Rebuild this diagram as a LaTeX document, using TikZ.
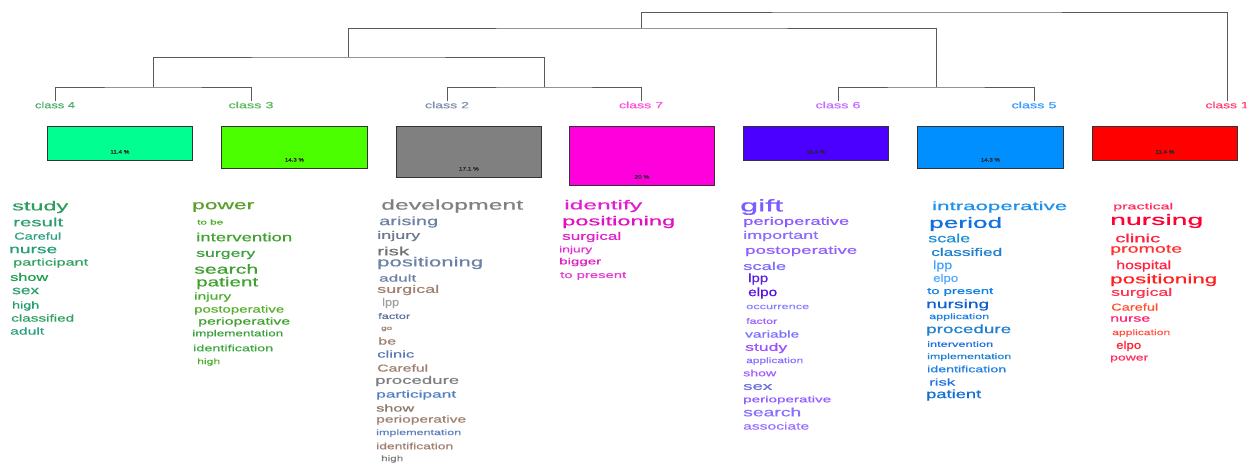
\documentclass[tikz,border=0pt]{standalone}
\usepackage{fontspec}
\setmainfont{Liberation Sans}[FakeBold=0.6]
\usepackage{graphicx}
\usetikzlibrary{calc}
\newlength\fitlen
\newcommand\fitw[3]{\fontsize{#2}{#2}\selectfont\settowidth\fitlen{#3}\scalebox{\fpeval{#1/\fitlen}}[1]{#3}}
\newcommand\W[7]{\node[wrd] (#1) at (#2,#3) {\color[HTML]{#4}\fitw{#5}{#6}{#7}};}
\tikzset{
  wrd/.style={anchor=west, inner sep=0pt},
  clab/.style={inner sep=0pt, anchor=center},
  box/.style={draw=black!80, line width=0.8pt, anchor=north west, inner sep=0pt},
  pct/.style={inner sep=0pt, text=black!85},
  treeline/.style={draw=black!65, line width=1pt}
}
\begin{document}
\begin{tikzpicture}[x=1pt, y=-1pt]
\useasboundingbox (0,0) rectangle (1247,464);
% class labels
\node[clab] (l4) at (55,105) {\color[HTML]{4CAF70}\fitw{40}{9}{class 4}};
\node[clab] (l3) at (251,105) {\color[HTML]{5CB85C}\fitw{45}{9}{class 3}};
\node[clab] (l2) at (447,105) {\color[HTML]{8090A8}\fitw{44}{9}{class 2}};
\node[clab] (l7) at (641,105) {\color[HTML]{FF50D8}\fitw{44}{9}{class 7}};
\node[clab] (l6) at (838,105) {\color[HTML]{C070FF}\fitw{45}{9}{class 6}};
\node[clab] (l5) at (1034,105) {\color[HTML]{3A9AFF}\fitw{45}{9}{class 5}};
\node[clab] (l1) at (1227,105) {\color[HTML]{FF4070}\fitw{43}{9}{class 1}};
% dendrogram
\coordinate (t43) at (153,87);
\coordinate (t27) at (544,87);
\coordinate (t65) at (936,87);
\coordinate (tL) at (348,57);
\coordinate (tM) at (641,28);
\coordinate (tT) at (900,12);
\draw[treeline] (l4.north) |- (t43) -| (l3.north);
\draw[treeline] (l2.north) |- (t27) -| (l7.north);
\draw[treeline] (l6.north) |- (t65) -| (l5.north);
\draw[treeline] (t43) |- (tL) -| (t27);
\draw[treeline] (tL) |- (tM) -| (t65);
\draw[treeline] (tM) |- (tT) -| (l1.north);
% boxes
\node[box, fill={rgb,255:red,0;green,255;blue,144}, minimum width=145pt, minimum height=34pt] (b4) at (47,126) {};
\node[box, fill={rgb,255:red,76;green,255;blue,0}, minimum width=146pt, minimum height=42pt] (b3) at (221,126) {};
\node[box, fill={rgb,255:red,128;green,128;blue,128}, minimum width=145pt, minimum height=51pt] (b2) at (396,126) {};
\node[box, fill={rgb,255:red,255;green,0;blue,221}, minimum width=145pt, minimum height=59pt] (b7) at (569,126) {};
\node[box, fill={rgb,255:red,75;green,0;blue,255}, minimum width=145pt, minimum height=34pt] (b6) at (743,126) {};
\node[box, fill={rgb,255:red,0;green,143;blue,255}, minimum width=146pt, minimum height=42pt] (b5) at (917,126) {};
\node[box, fill={rgb,255:red,255;green,0;blue,0}, minimum width=145pt, minimum height=34pt] (b1) at (1092,126) {};
\node[pct] (p4) at ($(b4.south)+(0,-9)$) {\fitw{19}{5}{11.4 \%}};
\node[pct] (p3) at ($(b3.south)+(0,-9)$) {\fitw{19}{5}{14.3 \%}};
\node[pct] (p2) at ($(b2.south)+(0,-9)$) {\fitw{20}{5}{17.1 \%}};
\node[pct] (p7) at ($(b7.south)+(0,-9)$) {\fitw{15}{5}{20 \%}};
\node[pct] (p6) at ($(b6.south)+(0,-9)$) {\fitw{19}{5}{11.4 \%}};
\node[pct] (p5) at ($(b5.south)+(0,-9)$) {\fitw{19}{5}{14.3 \%}};
\node[pct] (p1) at ($(b1.south)+(0,-9)$) {\fitw{19}{5}{11.4 \%}};
% class 4
\W{w4a}{12}{207}{2E9E60}{56}{13}{study}
\W{w4b}{13}{222}{2E9E6E}{50}{12}{result}
\W{w4c}{14}{236}{30A080}{47}{10}{Careful}
\W{w4d}{9}{250}{20A070}{48}{12}{nurse}
\W{w4e}{13}{263}{30A060}{75}{10}{participant}
\W{w4f}{10}{277}{20A050}{38}{11}{show}
\W{w4g}{12}{291}{30A070}{27}{12}{sex}
\W{w4h}{12}{306}{20A070}{27}{10}{high}
\W{w4i}{11}{318}{30A060}{63}{10}{classified}
\W{w4j}{10}{331}{30A080}{34}{10}{adult}
% class 3
\W{w3a}{192}{207}{5AA02C}{62}{13}{power}
\W{w3b}{197}{222}{4CAF30}{26}{7}{to be}
\W{w3c}{196}{237}{40A030}{96}{12}{intervention}
\W{w3d}{196}{255}{3CA040}{59}{11}{surgery}
\W{w3e}{194}{269}{40A030}{64}{13}{search}
\W{w3f}{196}{283}{40A030}{62}{13}{patient}
\W{w3g}{194}{297}{4CAF30}{37}{10}{injury}
\W{w3h}{194}{310}{5AAF30}{90}{10}{postoperative}
\W{w3i}{198}{322}{40A030}{92}{10}{perioperative}
\W{w3j}{192}{334}{3CA040}{91}{9}{implementation}
\W{w3k}{193}{348}{40A840}{80}{9}{identification}
\W{w3l}{197}{362}{4CAF30}{23}{8}{high}
% class 2
\W{w2a}{381}{206}{808080}{142}{14}{development}
\W{w2b}{379}{222}{6C82A5}{59}{12}{arising}
\W{w2c}{377}{236}{6C7A90}{43}{11}{injury}
\W{w2d}{377}{251}{707070}{32}{12}{risk}
\W{w2e}{377}{263}{6C82A5}{106}{13}{positioning}
\W{w2f}{379}{278}{6C82A5}{37}{10}{adult}
\W{w2g}{377}{290}{A08070}{62}{11}{surgical}
\W{w2h}{382}{303}{A0A0A0}{17}{11}{lpp}
\W{w2i}{378}{316}{5A70A0}{32}{8}{factor}
\W{w2j}{381}{329}{A08070}{11}{6}{go}
\W{w2k}{378}{341}{A08070}{18}{10}{be}
\W{w2l}{377}{354}{5A78B0}{37}{10}{clinic}
\W{w2m}{377}{368}{A08070}{51}{10}{Careful}
\W{w2n}{375}{381}{808080}{84}{11}{procedure}
\W{w2o}{376}{395}{5080C0}{80}{10}{participant}
\W{w2p}{376}{408}{8A7868}{38}{10}{show}
\W{w2q}{376}{420}{A08070}{90}{10}{perioperative}
\W{w2r}{376}{433}{5A80C0}{85}{8}{implementation}
\W{w2s}{376}{446}{A08070}{77}{9}{identification}
\W{w2t}{381}{459}{808080}{22}{8}{high}
% class 7
\W{w7a}{564}{206}{E020D0}{78}{13}{identify}
\W{w7b}{562}{222}{E010C0}{113}{13}{positioning}
\W{w7c}{562}{237}{E020C8}{59}{11}{surgical}
\W{w7d}{559}{250}{E030D0}{33}{9}{injury}
\W{w7e}{559}{262}{E020C0}{42}{9}{bigger}
\W{w7f}{560}{276}{E040D0}{66}{9}{to present}
% class 6
\W{w6a}{740}{207}{7B5CFF}{43}{17}{gift}
\W{w6b}{743}{222}{8A5CFF}{106}{11}{perioperative}
\W{w6c}{743}{236}{8A6CFF}{75}{11}{important}
\W{w6d}{745}{251}{9060FF}{112}{11}{postoperative}
\W{w6e}{743}{266}{7C6CFF}{43}{11}{scale}
\W{w6f}{748}{279}{5A20E0}{20}{12}{lpp}
\W{w6g}{748}{293}{5A10E0}{29}{12}{elpo}
\W{w6h}{746}{307}{8A80FF}{63}{8}{occurrence}
\W{w6i}{746}{321}{9A60FF}{31}{8}{factor}
\W{w6j}{745}{334}{8070FF}{54}{10}{variable}
\W{w6k}{745}{348}{A050FF}{42}{11}{study}
\W{w6l}{746}{361}{8A70FF}{57}{8}{application}
\W{w6m}{743}{373}{A060FF}{33}{9}{show}
\W{w6n}{743}{387}{7070E0}{29}{11}{sex}
\W{w6o}{743}{400}{9060FF}{88}{9}{perioperative}
\W{w6p}{743}{412}{8A70FF}{58}{12}{search}
\W{w6q}{743}{426}{9A70FF}{66}{10}{associate}
% class 5
\W{w5a}{932}{207}{2090E8}{135}{12}{intraoperative}
\W{w5b}{929}{224}{1070E0}{73}{15}{period}
\W{w5c}{928}{238}{2090D0}{42}{12}{scale}
\W{w5d}{931}{252}{2080D0}{71}{11}{classified}
\W{w5e}{933}{266}{40A0FF}{19}{12}{lpp}
\W{w5f}{933}{279}{50A8FF}{25}{11}{elpo}
\W{w5g}{927}{292}{1080E0}{66}{9}{to present}
\W{w5h}{926}{305}{1060D0}{63}{12}{nursing}
\W{w5i}{929}{317}{2080E0}{60}{8}{application}
\W{w5j}{926}{330}{2080D0}{85}{12}{procedure}
\W{w5k}{927}{344}{2070E0}{66}{8}{intervention}
\W{w5l}{927}{357}{2080D0}{84}{8}{implementation}
\W{w5m}{927}{369}{2080E0}{79}{9}{identification}
\W{w5n}{929}{382}{2070E0}{26}{10}{risk}
\W{w5o}{926}{395}{1070D0}{55}{12}{patient}
% class 1
\W{w1a}{1113}{207}{FF3060}{60}{9}{practical}
\W{w1b}{1110}{221}{FF0030}{93}{15}{nursing}
\W{w1c}{1115}{238}{FF2040}{45}{12}{clinic}
\W{w1d}{1110}{250}{FF3030}{72}{12}{promote}
\W{w1e}{1116}{266}{FF2040}{55}{12}{hospital}
\W{w1f}{1110}{280}{FF2020}{107}{13}{positioning}
\W{w1g}{1111}{293}{FF3050}{61}{11}{surgical}
\W{w1h}{1111}{307}{FF5030}{47}{10}{Careful}
\W{w1i}{1110}{319}{FF2070}{40}{10}{nurse}
\W{w1j}{1112}{333}{FF5040}{58}{8}{application}
\W{w1k}{1116}{346}{FF2030}{25}{11}{elpo}
\W{w1l}{1110}{359}{FF3060}{38}{9}{power}
\end{tikzpicture}
\end{document}
